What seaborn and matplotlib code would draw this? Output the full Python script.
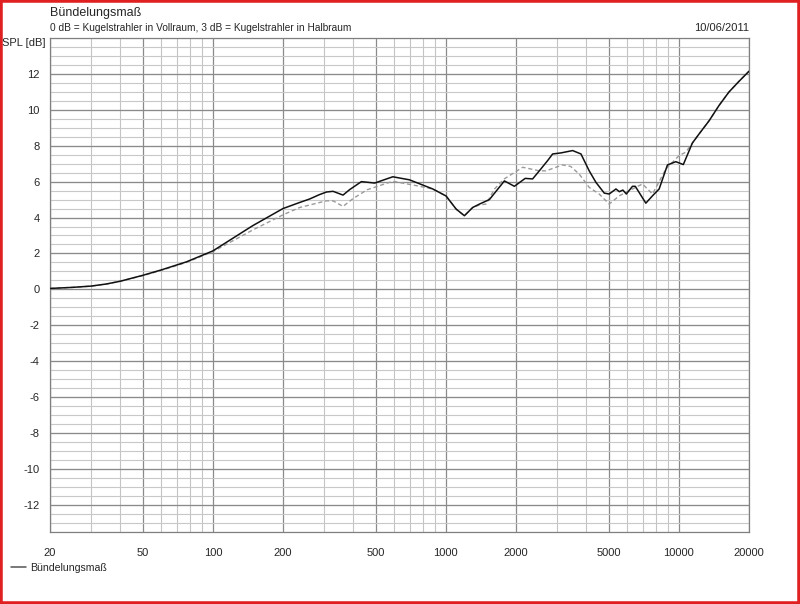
import numpy as np
import pandas as pd
import matplotlib
matplotlib.use("Agg")
import matplotlib.pyplot as plt
import seaborn as sns
from matplotlib.ticker import FixedLocator, NullFormatter
from matplotlib.patches import Rectangle

# Bündelungsmaß (gemessen, durchgezogen)
freq_main = [20, 25, 30, 35, 40, 50, 60, 77, 100, 148, 200, 236, 260, 286, 307, 328,
             362, 386, 434, 495, 592, 698, 879, 1002, 1107, 1201, 1304, 1394, 1538,
             1783, 1968, 2190, 2357, 2518, 2734, 2872, 3121, 3500, 3801, 4123, 4406,
             4785, 5024, 5370, 5554, 5750, 5950, 6325, 6500, 7216, 7707, 8230, 8935,
             9706, 10450, 11430, 12220, 13500, 14870, 16400, 18100, 20000]
spl_main = [0.05, 0.11, 0.18, 0.3, 0.45, 0.78, 1.08, 1.53, 2.14, 3.54, 4.5, 4.84, 5.03,
            5.27, 5.42, 5.46, 5.25, 5.55, 6.0, 5.92, 6.27, 6.1, 5.59, 5.2, 4.47, 4.1,
            4.56, 4.75, 5.0, 6.04, 5.74, 6.18, 6.15, 6.6, 7.17, 7.54, 7.6, 7.73, 7.54,
            6.6, 5.96, 5.36, 5.31, 5.59, 5.44, 5.53, 5.31, 5.74, 5.74, 4.8, 5.21, 5.59,
            6.93, 7.11, 6.95, 8.15, 8.66, 9.4, 10.24, 10.99, 11.58, 12.15]

# Vergleichskurve (gestrichelt)
freq_ref = [20, 25, 30, 35, 40, 50, 60, 77, 100, 148, 200, 236, 307, 328, 362, 400,
            460, 592, 750, 879, 1002, 1107, 1201, 1304, 1394, 1487, 1620, 1780, 2138,
            2518, 2690, 3170, 3430, 3735, 4123, 4550, 5024, 5554, 6325, 6980, 7707,
            8790, 10020, 10700, 12220, 13500, 14870, 16400, 18100, 20000]
spl_ref = [0.05, 0.11, 0.18, 0.3, 0.45, 0.76, 1.05, 1.5, 2.1, 3.3, 4.15, 4.56, 4.93,
           4.93, 4.62, 5.06, 5.55, 6.02, 5.77, 5.59, 5.2, 4.47, 4.1, 4.56, 4.7, 4.75,
           5.6, 6.15, 6.8, 6.6, 6.6, 6.93, 6.85, 6.42, 5.68, 5.31, 4.75, 5.21, 5.59,
           5.87, 5.31, 6.7, 7.45, 7.64, 8.66, 9.4, 10.24, 10.99, 11.58, 12.15]

x_major = [20, 50, 100, 200, 500, 1000, 2000, 5000, 10000, 20000]
x_labels = ["20", "50", "100", "200", "500", "1000", "2000", "5000", "10000", "20000"]
y_major = [-12, -10, -8, -6, -4, -2, 0, 2, 4, 6, 8, 10, 12]

sns.set_style("white")
plt.rcParams['font.family'] = ['Liberation Sans', 'DejaVu Sans']
plt.rcParams['font.size'] = 8
plt.rcParams['axes.unicode_minus'] = False

df_main = pd.DataFrame({"f": freq_main, "spl": spl_main})
df_ref = pd.DataFrame({"f": freq_ref, "spl": spl_ref})

fig = plt.figure(figsize=(8.0, 6.04), dpi=100)
ax = fig.add_axes([50 / 800, (604 - 531.7) / 604, 699 / 800, (531.7 - 38) / 604])

ax.set_xscale("log")
ax.set_xlim(20, 20000)
ax.set_ylim(-13.5, 14)

# Gitter
minor_x = [m * d for d in [10, 100, 1000, 10000] for m in range(2, 10)
           if 20 < m * d < 20000 and m * d not in x_major]
for xv in minor_x:
    ax.axvline(xv, color="#c4c4c4", lw=0.8, zorder=0)
for xv in x_major:
    ax.axvline(xv, color="#8a8a8a", lw=0.9, zorder=0)
for yv in np.arange(-13.5, 14.01, 0.5):
    ax.axhline(yv, color="#c8c8c8", lw=0.8, zorder=0)
for yv in y_major:
    ax.axhline(yv, color="#8a8a8a", lw=0.9, zorder=0)

sns.lineplot(data=df_ref, x="f", y="spl", ax=ax, color="#9a9a9a", lw=1.0,
             linestyle=(0, (3, 2)), zorder=3)
sns.lineplot(data=df_main, x="f", y="spl", ax=ax, color="#111111", lw=1.1,
             label="Bündelungsmaß", zorder=4)

ax.xaxis.set_major_locator(FixedLocator(x_major))
ax.set_xticklabels(x_labels)
ax.xaxis.set_minor_locator(FixedLocator(minor_x))
ax.xaxis.set_minor_formatter(NullFormatter())
ax.tick_params(axis="x", which="major", length=8, color="#707070", pad=3.5, labelsize=8)
ax.tick_params(axis="x", which="minor", length=5, color="#b0b0b0")
ax.set_yticks(y_major)
ax.tick_params(axis="y", which="major", length=4.5, color="#505050", pad=3, labelsize=8)
ax.set_xlabel("")
ax.set_ylabel("")
for s in ax.spines.values():
    s.set_color("#808080")
    s.set_linewidth(0.9)

fig.text(50 / 800, 1 - 13 / 604, "Bündelungsmaß", ha="left", va="center", fontsize=9)
fig.text(50 / 800, 1 - 28 / 604,
         "0 dB = Kugelstrahler in Vollraum, 3 dB = Kugelstrahler in Halbraum",
         ha="left", va="center", fontsize=7.3)
fig.text(749 / 800, 1 - 28 / 604, "10/06/2011", ha="right", va="center", fontsize=8)
fig.text(45 / 800, 1 - 43 / 604, "SPL [dB]", ha="right", va="center", fontsize=8)

ax.legend(loc="center left", bbox_to_anchor=(11 / 800, 1 - 568 / 604),
          bbox_transform=fig.transFigure, frameon=False, handlelength=1.4,
          handletextpad=0.4, borderaxespad=0, borderpad=0, fontsize=7.6)
leg = ax.get_legend()
for line in leg.get_lines():
    line.set_color("#555555")

fig.patches.append(Rectangle((0, 0), 1, 1, transform=fig.transFigure, fill=False,
                             edgecolor="#e02020", lw=4, zorder=10))

fig.savefig("out.png", dpi=100)
